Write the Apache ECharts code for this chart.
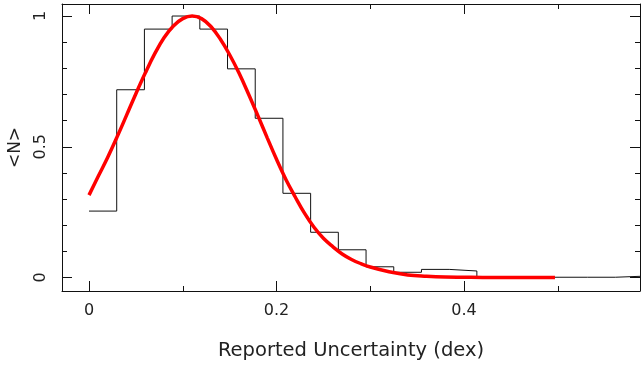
<!DOCTYPE html>
<html>
<head>
<meta charset="utf-8">
<script src="https://cdn.jsdelivr.net/npm/echarts@6/dist/echarts.min.js"></script>
<style>html,body{margin:0;padding:0;background:#fff;}#c{width:641px;height:367px;}</style>
</head>
<body>
<div id="c"></div>
<script>
// Histogram: bin width (dex) and normalised counts per bin, starting at 0
const binWidth = 0.02955;
const binHeights = [0.254, 0.718, 0.950, 1.000, 0.950, 0.798, 0.609, 0.322, 0.173, 0.106,
                    0.041, 0.020, 0.031, 0.025, 0.001, 0.001, 0.001, 0.001, 0.001, 0.005];
// Fitted curve
const curveX = [0.000, 0.010, 0.020, 0.030, 0.040, 0.050, 0.060, 0.070, 0.080, 0.090, 0.100, 0.110,
                0.120, 0.130, 0.140, 0.150, 0.160, 0.170, 0.180, 0.190, 0.200, 0.210, 0.220, 0.230,
                0.240, 0.250, 0.260, 0.270, 0.280, 0.290, 0.300, 0.320, 0.340, 0.360, 0.380, 0.400,
                0.420, 0.440, 0.470, 0.497];
const curveY = [0.315, 0.388, 0.460, 0.538, 0.620, 0.703, 0.782, 0.855, 0.917, 0.962, 0.990, 1.000,
                0.990, 0.960, 0.912, 0.852, 0.782, 0.703, 0.620, 0.535, 0.452, 0.375, 0.308, 0.245,
                0.192, 0.150, 0.118, 0.090, 0.069, 0.053, 0.040, 0.022, 0.010, 0.005, 0.002, 0.001,
                0.000, 0.000, 0.000, 0.000];
// Tick positions
const xMajor = [0, 0.2, 0.4];
const xMinor = [0.1, 0.3, 0.5];
const yMajor = [0, 0.5, 1];
const yMinor = [0.1, 0.2, 0.3, 0.4, 0.6, 0.7, 0.8, 0.9];
const xLabels = ['0', '0.2', '0.4'];
const yLabels = ['0', '0.5', '1'];

const X_MIN = -0.0288, X_MAX = 0.5877, Y_MIN = -0.0516, Y_MAX = 1.046;

const histPts = [];
binHeights.forEach((h, i) => {
  histPts.push([i * binWidth, h]);
  histPts.push([(i + 1) * binWidth, h]);
});
const curvePts = curveX.map((x, i) => [x, curveY[i]]);

const FONT = 'DejaVu Sans';
const lineStyle = {color: '#111', width: 1};

function xAx(pos, vals, len, showLabel, showLine) {
  return {
    type: 'value', position: pos, min: X_MIN, max: X_MAX,
    splitLine: {show: false},
    axisLine: {show: showLine, onZero: false, lineStyle: lineStyle},
    axisTick: {show: true, inside: true, length: len, customValues: vals, lineStyle: lineStyle},
    axisLabel: showLabel ? {
      show: true, customValues: xMajor, margin: 12, fontFamily: FONT, fontSize: 16, color: '#222',
      formatter: v => xLabels[xMajor.findIndex(m => Math.abs(m - v) < 1e-9)] ?? ''
    } : {show: false},
    name: showLabel ? 'Reported Uncertainty (dex)' : '',
    nameLocation: 'middle', nameGap: 50,
    nameTextStyle: {fontFamily: FONT, fontSize: 19.5, color: '#222'}
  };
}
function yAx(pos, vals, len, showLabel, showLine) {
  return {
    type: 'value', position: pos, min: Y_MIN, max: Y_MAX,
    splitLine: {show: false},
    axisLine: {show: showLine, onZero: false, lineStyle: lineStyle},
    axisTick: {show: true, inside: true, length: len, customValues: vals, lineStyle: lineStyle},
    axisLabel: showLabel ? {
      show: true, customValues: yMajor, rotate: 90, margin: 13, fontFamily: FONT, fontSize: 16, color: '#222',
      formatter: v => yLabels[yMajor.findIndex(m => Math.abs(m - v) < 1e-9)] ?? ''
    } : {show: false},
    name: showLabel ? '<N>' : '',
    nameLocation: 'middle', nameGap: 38, nameRotate: 90,
    nameTextStyle: {fontFamily: FONT, fontSize: 17, color: '#222'}
  };
}

const chart = echarts.init(document.getElementById('c'), null, {renderer: 'canvas'});
chart.setOption({
  animation: false,
  backgroundColor: '#fff',
  grid: {left: 62, right: 1, top: 4, bottom: 76, containLabel: false, outerBoundsMode: 'none'},
  xAxis: [
    xAx('bottom', xMajor, 10, true, true),
    xAx('bottom', xMinor, 5, false, false),
    xAx('top', xMajor, 10, false, true),
    xAx('top', xMinor, 5, false, false)
  ],
  yAxis: [
    yAx('left', yMajor, 10, true, true),
    yAx('left', yMinor, 5, false, false),
    yAx('right', yMajor, 10, false, true),
    yAx('right', yMinor, 5, false, false)
  ],
  series: [
    {
      type: 'line', xAxisIndex: 0, yAxisIndex: 0, data: histPts,
      symbol: 'none', lineStyle: {color: '#111', width: 1}, clip: true, silent: true
    },
    {
      type: 'line', xAxisIndex: 0, yAxisIndex: 0, data: curvePts, smooth: 0.4,
      symbol: 'none', lineStyle: {color: '#ff0000', width: 3.5}, clip: true, silent: true
    }
  ]
});
</script>
</body>
</html>
